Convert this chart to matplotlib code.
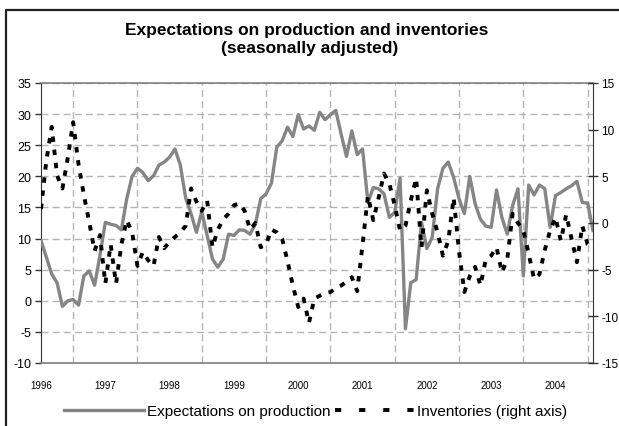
import numpy as np
import matplotlib.pyplot as plt
from matplotlib.lines import Line2D

plt.rcParams['font.family'] = ['Liberation Sans', 'DejaVu Sans']
plt.rcParams['axes.unicode_minus'] = False

# monthly values, Jan 1996 .. Aug 2004
production = [
    9.7, 7.0, 4.3, 2.9, -0.9, 0.0, 0.2, -0.7, 4.0, 4.8,
    2.5, 7.3, 12.6, 12.3, 12.1, 11.4, 16.4, 20.0, 21.3, 20.6,
    19.3, 20.1, 21.8, 22.3, 23.1, 24.4, 21.8, 16.5, 14.0, 11.0,
    14.3, 10.5, 6.7, 5.4, 6.7, 10.7, 10.5, 11.4, 11.3, 10.7,
    12.3, 16.4, 17.2, 18.9, 24.7, 25.7, 27.9, 26.4, 29.9, 27.6,
    28.1, 27.4, 30.3, 29.1, 29.9, 30.6, 26.8, 23.2, 27.3, 23.5,
    24.4, 15.8, 18.2, 18.0, 17.2, 13.4, 14.2, 19.7, -4.5, 2.9,
    3.4, 12.6, 8.4, 10.2, 18.0, 21.3, 22.3, 19.8, 16.4, 14.0,
    20.0, 15.6, 13.1, 12.0, 11.8, 17.8, 13.4, 10.7, 15.3, 18.0,
    4.0, 18.6, 17.0, 18.6, 18.0, 11.8, 16.9, 17.4, 18.0, 18.5,
    19.2, 15.8, 15.7, 11.3,
]
inventories = [
    1.5, 6.7, 10.3, 5.1, 3.7, 7.0, 10.8, 6.3, 3.0, 0.1,
    -3.0, -1.3, -6.5, -2.3, -6.5, -2.3, 0.3, -1.0, -4.6, -3.1,
    -4.0, -4.6, -1.5, -2.7, -2.0, -1.5, -1.0, -0.3, 3.7, 2.3,
    1.3, 2.4, -2.6, -0.7, 0.4, 1.0, 1.9, 2.1, 1.3, -0.7,
    0.0, -2.6, -2.3, -0.7, -1.0, -1.7, -4.1, -6.7, -9.0, -8.1,
    -10.7, -8.1, -7.8, -7.5, -7.4, -7.0, -6.7, -6.3, -5.8, -7.3,
    -2.3, 2.9, 0.3, 2.7, 5.3, 4.2, 1.9, -0.8, -0.3, 2.4,
    4.8, -2.6, 3.5, 1.0, -1.0, -3.5, -1.9, 2.7, -3.0, -7.4,
    -5.7, -4.7, -6.7, -3.9, -3.5, -2.6, -5.3, -3.9, 1.0, 0.0,
    -0.8, -3.3, -6.0, -5.5, -2.9, -0.8, 0.6, -1.9, 0.9, -1.7,
    -4.2, -0.3, -2.3, -2.8,
]
years = ['1996', '1997', '1998', '1999', '2000', '2001', '2002', '2003', '2004']
labels = ['Expectations on production', 'Inventories (right axis)']

W, H = 619, 427
months = np.arange(len(production))
gray = '#858585'

fig = plt.figure(figsize=(W / 100, H / 100), dpi=100)
ax = fig.add_axes([41 / W, 1 - 364 / H, 552 / W, 280 / H])
ax2 = ax.twinx()

ax.plot(months, production, color=gray, lw=2.4, zorder=3)
ax2.plot(months, inventories, color='k', lw=2.8, linestyle=(0, (1.4, 2.0)), zorder=3)

ax.set_xlim(0, len(production) - 1)
ax.set_ylim(-10, 35)
ax.set_yticks(range(-10, 36, 5))
ax2.set_ylim(-15, 15)
ax2.set_yticks(range(-15, 16, 5))

# year gridlines (mid-year in the original), labels put separately
ax.set_xticks(np.arange(6, len(production), 12))
ax.tick_params(axis='x', length=0, labelbottom=False)
ax.grid(True, color='#b4b4b4', lw=1, linestyle=(0, (5, 3)))
ax.set_axisbelow(True)

for k, yr in enumerate(years):
    ax.text(12 * k, -0.078, yr, transform=ax.get_xaxis_transform(),
            ha='center', va='center', fontsize=7)

for s in ['top', 'bottom']:
    ax.spines[s].set_color('#808080')
    ax.spines[s].set_linewidth(1.2)
ax.spines['left'].set_color('#333333')
ax.spines['right'].set_visible(False)
for s in ['top', 'bottom', 'left']:
    ax2.spines[s].set_visible(False)
ax2.spines['right'].set_color('#333333')

ax.tick_params(axis='y', direction='out', length=4, width=1, color='#333333',
               labelsize=9, pad=3)
ax2.tick_params(axis='y', direction='inout', length=7, width=1, color='#333333',
                labelsize=8.5, pad=2.5)

fig.text(307 / W, 1 - 30 / H, 'Expectations on production and inventories',
         ha='center', va='center', fontsize=12.5, fontweight='bold')
fig.text(310 / W, 1 - 48.5 / H, '(seasonally adjusted)',
         ha='center', va='center', fontsize=12.5, fontweight='bold')

handles = [Line2D([], [], color=gray, lw=2.4),
           Line2D([], [], color='k', lw=2.8, linestyle=(0, (1.6, 4.6)))]
fig.legend(handles, labels, loc='center', bbox_to_anchor=(316 / W, 1 - 412 / H),
           ncol=2, frameon=False, fontsize=11, handlelength=5.2,
           handletextpad=0.2, columnspacing=0.3, borderpad=0)

# outer frame (only left and top edges are visible in the original)
fig.add_artist(Line2D([6 / W, 6 / W, 1.0], [0, 1 - 10.5 / H, 1 - 10.5 / H],
                      transform=fig.transFigure, color='#222222', lw=1.6))

fig.savefig('out.png', dpi=100)
